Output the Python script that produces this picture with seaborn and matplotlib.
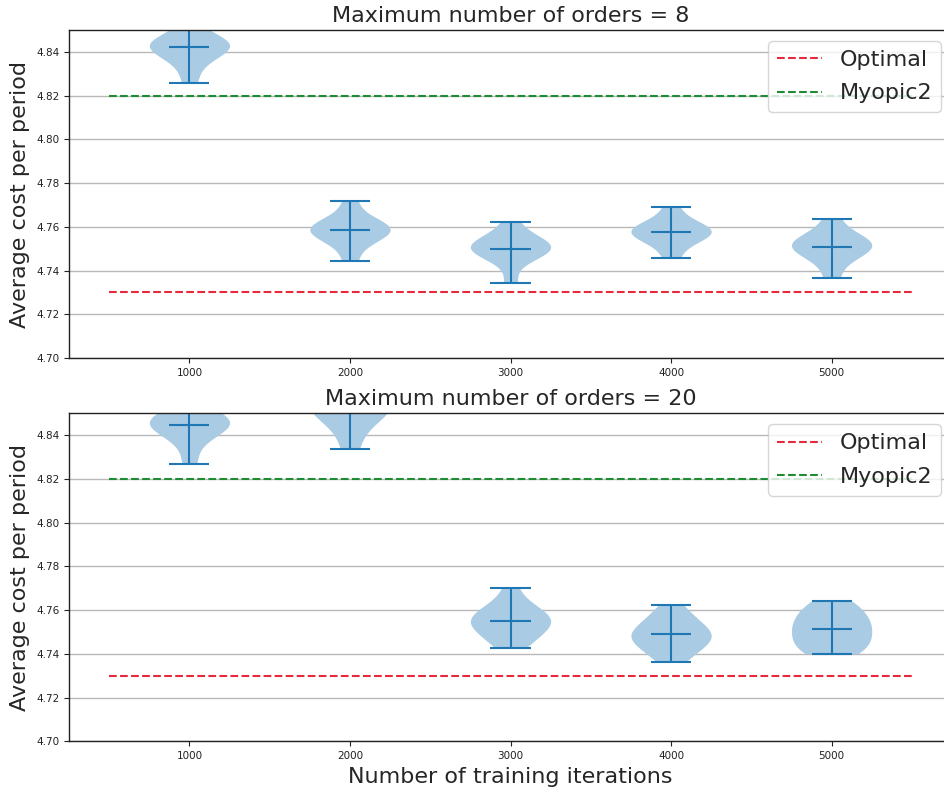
"""
Violin plots of average cost per period vs. training iterations
"""

import matplotlib

matplotlib.use("Agg")
import matplotlib.pyplot as plt
import numpy as np
import pandas as pd
import seaborn as sns

iterations = [1000, 2000, 3000, 4000, 5000]
optimal_cost = 4.73
myopic2_cost = 4.82

# Average cost per period of each run, maximum number of orders = 8
orders8_it1000 = [4.8260, 4.8345, 4.8395, 4.8415, 4.8425, 4.8432, 4.8440, 4.8450, 4.8468, 4.8580]
orders8_it2000 = [4.7445, 4.7525, 4.7550, 4.7570, 4.7583, 4.7592, 4.7602, 4.7615, 4.7635, 4.7716]
orders8_it3000 = [4.7343, 4.7450, 4.7475, 4.7490, 4.7502, 4.7512, 4.7522, 4.7535, 4.7555, 4.7620]
orders8_it4000 = [4.7456, 4.7520, 4.7545, 4.7562, 4.7573, 4.7583, 4.7593, 4.7605, 4.7625, 4.7690]
orders8_it5000 = [4.7365, 4.7445, 4.7475, 4.7495, 4.7508, 4.7520, 4.7532, 4.7545, 4.7565, 4.7634]

# Average cost per period of each run, maximum number of orders = 20
orders20_it1000 = [4.8268, 4.8370, 4.8420, 4.8440, 4.8450, 4.8460, 4.8472, 4.8485, 4.8500, 4.8600]
orders20_it2000 = [4.8336, 4.8430, 4.8480, 4.8510, 4.8525, 4.8540, 4.8555, 4.8575, 4.8610, 4.8700]
orders20_it3000 = [4.7427, 4.7455, 4.7480, 4.7500, 4.7515, 4.7530, 4.7545,
                   4.7555, 4.7565, 4.7580, 4.7595, 4.7615, 4.7640, 4.7701]
orders20_it4000 = [4.7364, 4.7395, 4.7420, 4.7440, 4.7455, 4.7468, 4.7480,
                   4.7492, 4.7505, 4.7520, 4.7538, 4.7560, 4.7585, 4.7625]
orders20_it5000 = [4.7401, 4.7415, 4.7440, 4.7465, 4.7490, 4.7510, 4.7540, 4.7550, 4.7585, 4.7610, 4.7640]

panels = [
    ("Maximum number of orders = 8",
     [orders8_it1000, orders8_it2000, orders8_it3000, orders8_it4000, orders8_it5000]),
    ("Maximum number of orders = 20",
     [orders20_it1000, orders20_it2000, orders20_it3000, orders20_it4000, orders20_it5000]),
]

LINE_COLOR = "#1f77b4"
FILL_COLOR = "#a9cbe3"

sns.set_theme(style="ticks")
plt.rcParams["font.family"] = ["DejaVu Sans"]

fig = plt.figure(figsize=(9.44, 7.9), dpi=100)
axes = [
    fig.add_axes([0.0731, 0.5468, 0.9354, 0.4152]),
    fig.add_axes([0.0731, 0.0616, 0.9354, 0.4152]),
]

for ax, (title, runs) in zip(axes, panels):
    df = pd.DataFrame(
        [(it, c) for it, vals in zip(iterations, runs) for c in vals],
        columns=["iterations", "cost"],
    )

    sns.violinplot(
        data=df,
        x="iterations",
        y="cost",
        native_scale=True,
        cut=0,
        inner=None,
        density_norm="width",
        width=0.5,
        color=FILL_COLOR,
        saturation=1,
        linewidth=0,
        ax=ax,
    )

    # extrema and mean bars, like matplotlib's violinplot
    for it, vals in zip(iterations, runs):
        lo, hi, mu = min(vals), max(vals), np.mean(vals)
        ax.vlines(it, lo, hi, color=LINE_COLOR, lw=1.5)
        ax.hlines([lo, mu, hi], it - 125, it + 125, color=LINE_COLOR, lw=1.5)

    x_span = [iterations[0] - 500, iterations[-1] + 500]
    ax.plot(x_span, [optimal_cost, optimal_cost], "--", color="#e8283c", lw=1.5, label="Optimal")
    ax.plot(x_span, [myopic2_cost, myopic2_cost], "--", color="#1e8c32", lw=1.5, label="Myopic2")

    ax.set_xlim(250, 5750)
    ax.set_ylim(4.70, 4.85)
    ax.set_xticks(iterations)
    ax.set_xticklabels([str(i) for i in iterations])
    yticks = np.arange(4.70, 4.845, 0.02)
    ax.set_yticks(yticks)
    ax.set_yticklabels([f"{v:.2f}" for v in yticks])
    ax.tick_params(labelsize=7.5, length=3.5, width=0.8, colors="#222222")
    ax.grid(axis="y", color="#b8b8b8", lw=1)
    ax.set_axisbelow(True)
    for side in ["left", "bottom", "top", "right"]:
        ax.spines[side].set_color("#222222")
        ax.spines[side].set_linewidth(1)

    ax.set_title(title, fontsize=16)
    ax.set_ylabel("Average cost per period", fontsize=16)
    ax.set_xlabel("")
    ax.legend(loc="upper right", fontsize=16, framealpha=0.8, labelspacing=0.6)

axes[1].set_xlabel("Number of training iterations", fontsize=16)

fig.savefig("out.png", dpi=100)
